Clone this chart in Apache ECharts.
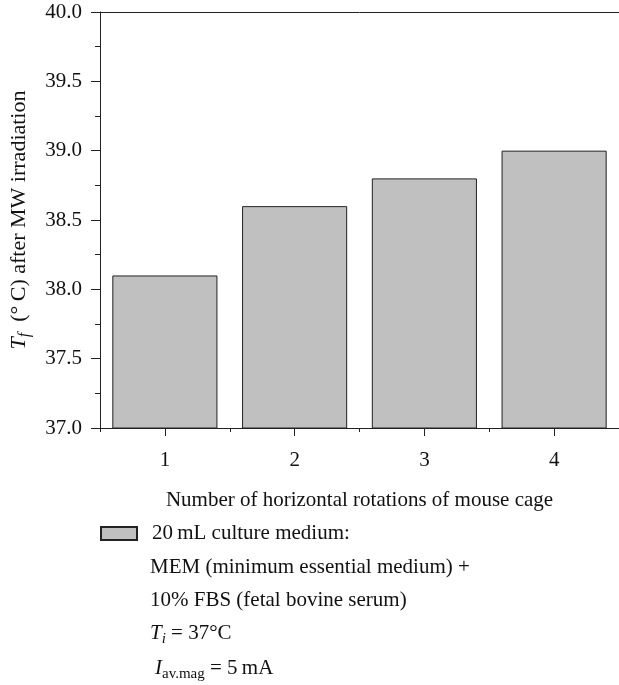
<!DOCTYPE html>
<html>
<head>
<meta charset="utf-8">
<script src="https://cdn.jsdelivr.net/npm/echarts@6/dist/echarts.min.js"></script>
<style>html,body{margin:0;padding:0;background:#fff}#c{width:619px;height:685px}</style>
</head>
<body>
<div id="c"></div>
<script>
var categories = ['1', '2', '3', '4'];
var values = [38.1, 38.6, 38.8, 39.0];
var yTicks = [37.0, 37.5, 38.0, 38.5, 39.0, 39.5, 40.0];
var seriesName = '20\u2009mL culture medium:';
var xTitle = 'Number of horizontal rotations of mouse cage';
var noteLines = [
  'MEM (minimum essential medium) +',
  '10% FBS (fetal bovine serum)',
  '{it|T}{sub|i} = 37\u00B0C',
  '{it|I}{sub2|av.mag} = 5\u2009mA'
];

var FONT = '"Liberation Serif", "DejaVu Serif", serif';
var FS = 21;
var rich = {
  it: {fontFamily: FONT, fontSize: FS, fontStyle: 'italic', color: '#111'},
  sub: {fontFamily: FONT, fontSize: 15, fontStyle: 'italic', color: '#111', padding: [12, 0, 0, 0]},
  sub2: {fontFamily: FONT, fontSize: 15, color: '#111', padding: [12, 0, 0, 0]}
};
var richY = {
  it: {fontFamily: FONT, fontSize: 22, fontStyle: 'italic', color: '#111'},
  sub: {fontFamily: FONT, fontSize: 16, fontStyle: 'italic', color: '#111', padding: [12, 0, 0, 0]}
};
var chart = echarts.init(document.getElementById('c'));
var noteY = [568, 601, 634, 669];
var noteX = [150, 150, 150, 155];
var graphics = noteLines.map(function (t, i) {
  return {
    type: 'text', left: noteX[i], top: noteY[i] - 11,
    style: {text: t, font: FS + 'px ' + FONT, fill: '#111', rich: rich}
  };
});
chart.setOption({
  animation: false,
  textStyle: {fontFamily: FONT},
  grid: {left: 100, right: 0, top: 12, bottom: 257},
  legend: {
    left: 100, top: 523, padding: 0,
    itemWidth: 36, itemHeight: 13,
    icon: 'rect',
    textStyle: {fontFamily: FONT, fontSize: FS, color: '#111', padding: [0, 0, 0, 10]},
    data: [seriesName]
  },
  xAxis: [
    {
      type: 'category', data: categories, position: 'bottom',
      axisLine: {lineStyle: {color: '#222', width: 1}},
      axisTick: {show: true, alignWithLabel: true, length: 8, lineStyle: {color: '#222'}},
      axisLabel: {fontFamily: FONT, fontSize: FS, color: '#111', margin: 22},
      name: xTitle, nameLocation: 'middle', nameGap: 62,
      nameTextStyle: {fontFamily: FONT, fontSize: FS, color: '#111'}
    },
    {
      type: 'category', data: categories, position: 'bottom',
      axisLine: {show: false},
      axisTick: {show: true, length: 4, lineStyle: {color: '#222'}},
      axisLabel: {show: false}
    },
    {
      type: 'category', data: categories, position: 'top',
      axisLine: {show: true, lineStyle: {color: '#222', width: 1}},
      axisTick: {show: false},
      axisLabel: {show: false}
    }
  ],
  yAxis: {
    type: 'value', min: 37, max: 40, interval: 0.5,
    axisLine: {show: true, lineStyle: {color: '#222', width: 1}},
    axisTick: {show: true, length: 9, lineStyle: {color: '#222'}},
    minorTick: {show: true, splitNumber: 2, length: 5, lineStyle: {color: '#222'}},
    splitLine: {show: false},
    minorSplitLine: {show: false},
    axisLabel: {
      fontFamily: FONT, fontSize: FS, color: '#111', margin: 18,
      formatter: function (v) { return yTicks.indexOf(v) >= 0 ? v.toFixed(1) : ''; }
    },
    name: '{it|T}{sub|f}  (\u00B0\u2009C) after MW irradiation',
    nameLocation: 'middle', nameRotate: 90, nameGap: 67,
    nameTextStyle: {fontFamily: FONT, fontSize: 22, color: '#111', rich: richY}
  },
  series: [{
    name: seriesName,
    type: 'bar', xAxisIndex: 0,
    data: values,
    barCategoryGap: '19%',
    itemStyle: {color: '#c0c0c0', borderColor: '#222', borderWidth: 1}
  }],
  graphic: graphics
});
</script>
</body>
</html>
